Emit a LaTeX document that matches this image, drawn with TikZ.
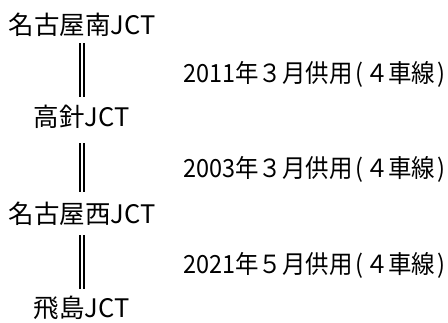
\documentclass[tikz,border=0pt]{standalone}
\usepackage{fontspec}
\setmainfont{Noto Sans CJK JP}
\usepackage{tikz}
\usetikzlibrary{positioning}

\newcommand{\openline}[1]{\resizebox{262pt}{\height}{#1\hspace{3pt}(\hspace{2pt}４車線\hspace{2pt})}}

\begin{document}
\begin{tikzpicture}[x=1pt,y=1pt,
  jct/.style={anchor=base, inner sep=0pt, text height=20pt, text depth=0pt,
    font=\fontsize{25.5}{29}\selectfont},
  road/.style={line width=2pt, double distance=1.8pt},
  opening/.style={anchor=base west, inner sep=0pt, font=\fontsize{25}{29}\selectfont}]
\useasboundingbox (0,0) rectangle (448,323);
% junctions
\node[jct] (minami) at (82,288) {名古屋南JCT};
\node[jct] (takabari) at (81.5,196) {高針JCT};
\node[jct] (nishi) at (82,99) {名古屋西JCT};
\node[jct] (tobishima) at (81.5,5) {飛島JCT};
% sections
\draw[road, shorten <=8pt, shorten >=10pt] (minami.south) -- (minami.south |- takabari.north);
\draw[road, shorten <=16pt, shorten >=12pt] (minami.south |- takabari.south) -- (minami.south |- nishi.north);
\draw[road, shorten <=11pt, shorten >=9pt] (minami.south |- nishi.south) -- (minami.south |- tobishima.north);
% opening dates
\node[opening] (open1) at (183,240) {\openline{2011年３月供用}};
\node[opening] (open2) at (183,145) {\openline{2003年３月供用}};
\node[opening] (open3) at (183,49) {\openline{2021年５月供用}};
\end{tikzpicture}
\end{document}
